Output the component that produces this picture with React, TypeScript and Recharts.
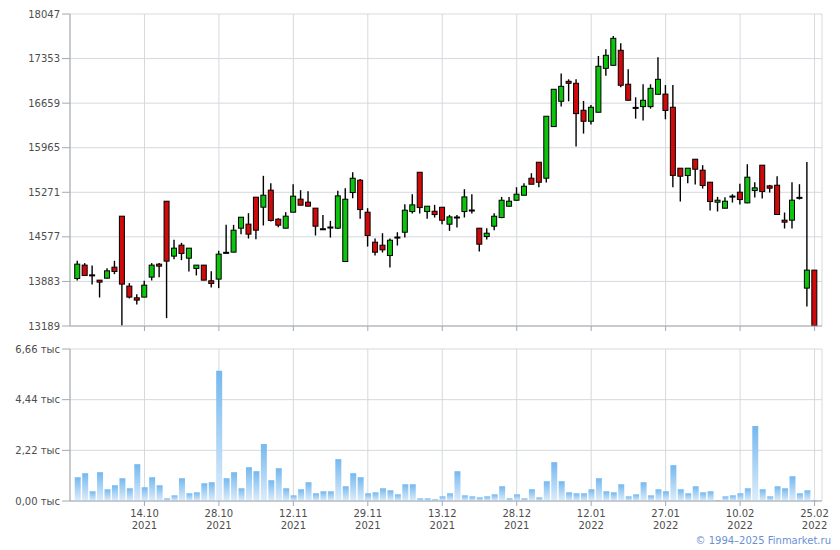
import React from 'react';
import {
  ComposedChart,
  BarChart,
  Bar,
  XAxis,
  YAxis,
  CartesianGrid,
} from 'recharts';

// trading day index -> OHLC
const open = [
  13929, 14137, 13985, 13903, 13934, 14105, 14899, 13810, 13628, 13639,
  13950, 14152, 15132, 14277, 14448, 14245, 14085, 14137, 13893, 13919,
  14330, 14339, 14712, 14775, 15195, 15039, 15304, 14852, 14712, 14961,
  15164, 15117, 15024, 14703, 14727, 14712, 14193, 15267, 15459, 14961,
  14494, 14447, 14286, 14570, 14649, 14971, 15583, 14971, 14976, 15038,
  14774, 14880, 14971, 14990, 14712, 14582, 14743, 14878, 15054, 15147,
  15225, 15490, 15739, 15490, 16294, 16688, 16999, 16968, 16548, 16377,
  16517, 17201, 17248, 17482, 16953, 16593, 16605, 16605, 16797, 16800,
  16595, 15646, 15532, 15786, 15615, 15428, 15117, 15023, 15208, 15272,
  15106, 15298, 15693, 15371, 15381, 14837, 14837, 15186, 13779, 14059,
];
const high = [
  14204, 14168, 14131, 13905, 14090, 14204, 14899, 13856, 13685, 13893,
  14168, 14168, 15132, 14531, 14484, 14401, 14137, 14137, 14043, 14360,
  14764, 14764, 14883, 14946, 15195, 15527, 15413, 14868, 14961, 15397,
  15304, 15288, 15024, 14919, 14826, 15293, 15334, 15583, 15479, 15023,
  14551, 14634, 14551, 14649, 15085, 15241, 15583, 15054, 15075, 15038,
  14919, 14919, 15319, 15241, 14712, 14712, 14945, 15199, 15199, 15350,
  15412, 15568, 15739, 16455, 16875, 17119, 17030, 17030, 16693, 16631,
  17393, 17497, 17705, 17591, 17186, 16750, 16953, 16953, 17373, 16940,
  16940, 15646, 15646, 15786, 15693, 15428, 15200, 15195, 15241, 15402,
  15708, 15428, 15693, 15387, 15521, 14956, 15428, 15397, 15744, 14059,
];
const low = [
  13898, 13970, 13836, 13633, 13930, 13996, 13198, 13618, 13524, 13635,
  13898, 13950, 13312, 14230, 14214, 14038, 13976, 13903, 13789, 13779,
  14318, 14335, 14619, 14551, 14541, 14754, 14816, 14728, 14710, 14961,
  15070, 15050, 14598, 14686, 14566, 14701, 14193, 15178, 14857, 14426,
  14286, 14333, 14100, 14442, 14566, 14940, 14940, 14857, 14878, 14774,
  14670, 14722, 14878, 14940, 14349, 14535, 14681, 14868, 15050, 15137,
  15225, 15396, 15350, 15422, 16294, 16605, 16688, 15983, 16185, 16325,
  16517, 17087, 17248, 16906, 16700, 16418, 16387, 16574, 16797, 16408,
  15348, 15127, 15412, 15392, 15329, 14987, 14972, 15023, 15112, 15080,
  15100, 15189, 15174, 15267, 14925, 14707, 14707, 15158, 13493, 13189,
];
const close = [
  14152, 13976, 13978, 13872, 14048, 14038, 13841, 13639, 13592, 13825,
  14137, 14121, 14199, 14401, 14318, 14401, 14137, 13903, 13851, 14308,
  14336, 14681, 14883, 14619, 14681, 15226, 14832, 14759, 14899, 15210,
  15070, 15055, 14743, 14698, 14730, 15215, 15163, 15490, 15002, 14598,
  14338, 14375, 14525, 14574, 14992, 15075, 15033, 15054, 14924, 14836,
  14888, 14886, 15199, 14995, 14463, 14634, 14898, 15147, 15132, 15241,
  15365, 15396, 15427, 16455, 16875, 16921, 16968, 16496, 16377, 16595,
  17233, 17404, 17668, 16937, 16704, 16585, 16704, 16890, 17030, 16545,
  15534, 15521, 15646, 15630, 15376, 15127, 15148, 15132, 15212, 15158,
  15506, 15340, 15283, 15335, 14925, 14806, 15148, 15192, 14059, 13195,
];
const volume = [
  1042, 1218, 426, 1262, 514, 690, 998, 558, 1614, 602,
  1042, 690, 118, 249, 998, 338, 381, 778, 822, 5707,
  998, 1262, 558, 1482, 1306, 2494, 910, 1438, 558, 249,
  514, 822, 338, 426, 426, 1834, 646, 1218, 1042, 338,
  381, 558, 470, 293, 734, 734, 118, 118, 74, 205,
  338, 1306, 249, 205, 161, 205, 293, 646, 118, 293,
  118, 514, 161, 866, 1702, 866, 381, 338, 338, 514,
  998, 426, 381, 734, 205, 293, 822, 249, 514, 426,
  1570, 514, 338, 646, 381, 426, 29, 205, 249, 338,
  558, 3286, 514, 205, 646, 558, 1086, 338, 470, 29,
];

// labelled days on the time axis
const tickDays = [9, 19, 29, 39, 49, 59, 69, 79, 89, 99];
const tickDates = ['14.10', '28.10', '12.11', '29.11', '13.12', '28.12', '12.01', '27.01', '10.02', '25.02'];
const tickYears = ['2021', '2021', '2021', '2021', '2021', '2021', '2022', '2022', '2022', '2022'];

const priceTicks = [13189, 13883, 14577, 15271, 15965, 16659, 17353, 18047];
const volumeTicks = [0, 2220, 4440, 6660];

const data = open.map((o, i) => ({
  day: i,
  open: o,
  high: high[i],
  low: low[i],
  close: close[i],
  volume: volume[i],
}));

const FONT = '"DejaVu Sans", Verdana, sans-serif';
const GRID = '#d5d9dd';
const AXIS = '#a4a9b0';
const TEXT = '#4d4d4d';

const Candle = (props: any) => {
  const { x, y, width, height, payload } = props;
  if (!payload) return null;
  const top = Math.min(y, y + height);
  const h = Math.abs(height);
  const range = payload.high - payload.low || 1;
  const toY = (v: number) => top + ((payload.high - v) / range) * h;
  const cx = x + width / 2;
  const yo = toY(payload.open);
  const yc = toY(payload.close);
  const bodyTop = Math.min(yo, yc);
  const bodyH = Math.max(Math.abs(yo - yc), 1);
  const up = payload.close >= payload.open;
  return (
    <g>
      <line x1={cx} x2={cx} y1={top} y2={top + h} stroke="#000" strokeWidth={1.4} />
      <rect
        x={cx - 2.5}
        y={bodyTop}
        width={5}
        height={bodyH}
        fill={up ? '#0cc40c' : '#d00a0a'}
        stroke="#000"
        strokeWidth={1}
      />
    </g>
  );
};

const DateTick = (props: any) => {
  const { x, y, payload } = props;
  const k = tickDays.indexOf(payload.value);
  if (k < 0) return null;
  return (
    <g>
      <text x={x} y={y + 9} textAnchor="middle" fontSize={10} fontFamily={FONT} fill={TEXT}>
        {tickDates[k]}
      </text>
      <text x={x} y={y + 21} textAnchor="middle" fontSize={10} fontFamily={FONT} fill={TEXT}>
        {tickYears[k]}
      </text>
    </g>
  );
};

const fmtVolume = (v: number) => (v / 1000).toFixed(2).replace('.', ',') + ' тыс';

export default function App() {
  return (
    <div style={{ position: 'absolute', left: 0, top: 0, width: 840, height: 550, background: '#fff' }}>
      <div style={{ position: 'absolute', left: 0, top: 0 }}>
        <ComposedChart
          width={840}
          height={334}
          data={data}
          margin={{ top: 14, right: 18, left: 0, bottom: 0 }}
        >
          <CartesianGrid stroke={GRID} strokeWidth={1} />
          <XAxis
            dataKey="day"
            type="number"
            domain={[-1, 100]}
            ticks={tickDays}
            interval={0}
            height={8}
            tickSize={5}
            tickFormatter={() => ''}
            stroke={AXIS}
          />
          <YAxis
            type="number"
            domain={[13189, 18047]}
            ticks={priceTicks}
            interval={0}
            width={70}
            tickSize={8}
            tickMargin={2}
            stroke={AXIS}
            tick={{ fill: TEXT, fontSize: 10, fontFamily: FONT }}
          />
          <Bar
            dataKey={(d: any) => [d.low, d.high]}
            barSize={7}
            shape={<Candle />}
            isAnimationActive={false}
          />
        </ComposedChart>
      </div>

      <div style={{ position: 'absolute', left: 0, top: 340 }}>
        <BarChart
          width={840}
          height={210}
          data={data}
          margin={{ top: 9, right: 18, left: 0, bottom: 0 }}
        >
          <defs>
            <linearGradient id="volFill" x1="0" y1="0" x2="0" y2="1">
              <stop offset="0%" stopColor="#74b8ef" />
              <stop offset="100%" stopColor="#deedfa" />
            </linearGradient>
          </defs>
          <CartesianGrid stroke={GRID} strokeWidth={1} />
          <XAxis
            dataKey="day"
            type="number"
            domain={[-1, 100]}
            ticks={tickDays}
            interval={0}
            height={49}
            tickSize={5}
            stroke={AXIS}
            tick={<DateTick />}
          />
          <YAxis
            type="number"
            domain={[0, 6660]}
            ticks={volumeTicks}
            interval={0}
            width={70}
            tickSize={8}
            tickMargin={2}
            stroke={AXIS}
            tickFormatter={fmtVolume}
            tick={{ fill: TEXT, fontSize: 10, fontFamily: FONT }}
          />
          <Bar dataKey="volume" barSize={6} fill="url(#volFill)" isAnimationActive={false} />
        </BarChart>
      </div>

      <div
        style={{
          position: 'absolute',
          right: 9,
          top: 535,
          fontFamily: FONT,
          fontSize: 10,
          color: '#6b8fd6',
          whiteSpace: 'nowrap',
        }}
      >
        © 1994–2025 Finmarket.ru
      </div>
    </div>
  );
}
